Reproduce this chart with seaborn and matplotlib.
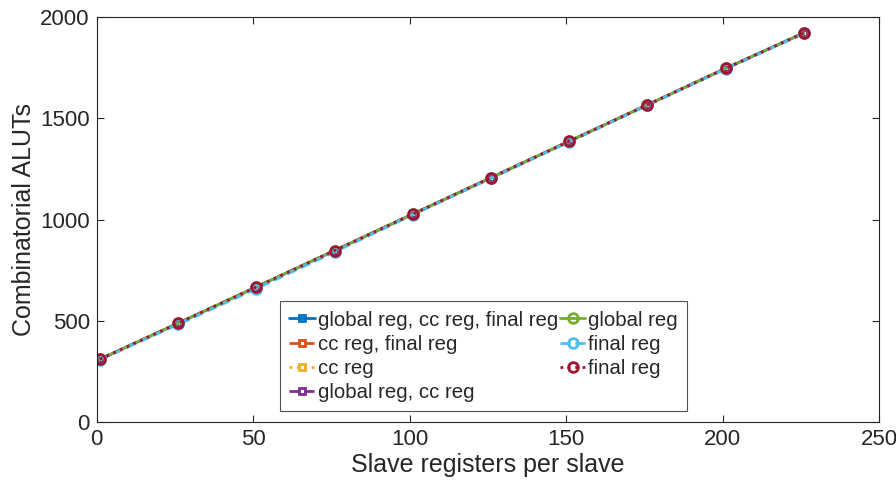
import numpy as np
import pandas as pd
import seaborn as sns
from matplotlib import pyplot as plt

# slave registers per slave
registers = [1, 26, 51, 76, 101, 126, 151, 176, 201, 226]

# combinatorial ALUTs per configuration
aluts_global_cc_final = [310, 488, 667, 847, 1027, 1207, 1387, 1567, 1747, 1922]
aluts_cc_final = [310, 488, 667, 847, 1027, 1207, 1387, 1567, 1747, 1922]
aluts_cc = [310, 487, 666, 846, 1026, 1206, 1386, 1566, 1746, 1921]
aluts_global_cc = [310, 488, 667, 847, 1027, 1207, 1387, 1567, 1747, 1922]
aluts_global = [310, 488, 667, 847, 1027, 1207, 1387, 1567, 1747, 1922]
aluts_final_a = [308, 482, 659, 840, 1024, 1204, 1384, 1565, 1745, 1920]
aluts_final_b = [310, 488, 667, 847, 1027, 1207, 1387, 1567, 1747, 1922]

labels = ["global reg, cc reg, final reg", "cc reg, final reg", "cc reg",
          "global reg, cc reg", "global reg", "final reg", "final reg"]
series = [aluts_global_cc_final, aluts_cc_final, aluts_cc, aluts_global_cc,
          aluts_global, aluts_final_a, aluts_final_b]

colors = ["#0072BD", "#D95319", "#EDB120", "#7E2F8E", "#77AC30", "#4DBEEE", "#A2142F"]
styles = ["-", "--", ":", "--", "-", "--", ":"]
markers = ["s", "s", "s", "s", "o", "o", "o"]
msizes = [5, 5, 5, 5, 7, 7, 7]

sns.set_theme(style="white")
plt.rcParams['font.family'] = ['Liberation Sans', 'DejaVu Sans']

fig = plt.figure(figsize=(8.96, 4.91), dpi=100)
ax = fig.add_axes([0.108, 0.1405, 0.873, 0.8245])

for i, (lab, vals) in enumerate(zip(labels, series)):
    df = pd.DataFrame({"x": registers, "y": vals})
    sns.lineplot(data=df, x="x", y="y", ax=ax, color=colors[i], linestyle=styles[i],
                 marker=markers[i], markersize=msizes[i], markerfacecolor="none",
                 markeredgecolor=colors[i], markeredgewidth=2.0, linewidth=2.0,
                 label=lab, errorbar=None)

ax.set_xlim(0, 250)
ax.set_ylim(0, 2000)
ax.set_xticks([0, 50, 100, 150, 200, 250])
ax.set_yticks([0, 500, 1000, 1500, 2000])
ax.set_xlabel("Slave registers per slave", fontsize=18, color="#262626", labelpad=2)
ax.set_ylabel("Combinatorial ALUTs", fontsize=18, color="#262626", labelpad=3)
ax.tick_params(direction="in", length=5, width=0.8, labelsize=16, colors="#262626",
               top=True, right=True, bottom=True, left=True, pad=5)
for s in ax.spines.values():
    s.set_color("#262626")
    s.set_linewidth(0.8)

leg = ax.legend(loc="lower left", bbox_to_anchor=(0.234, 0.027), ncol=2, fontsize=14.7,
                frameon=True, fancybox=False, edgecolor="#262626", handlelength=1.25,
                handletextpad=0.15, columnspacing=0.1, labelspacing=0.25,
                borderpad=0.45, borderaxespad=0.0)
leg.get_frame().set_linewidth(0.8)

fig.savefig("out.png", dpi=100)
